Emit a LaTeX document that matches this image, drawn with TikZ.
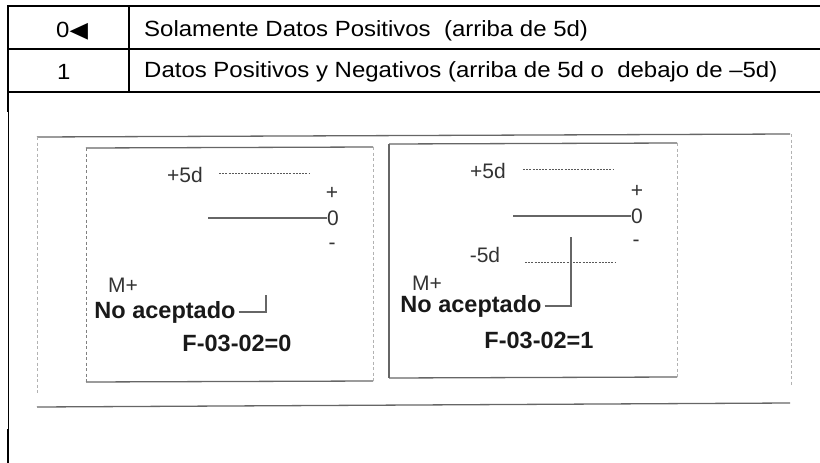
\documentclass[tikz,border=0pt]{standalone}
\usepackage{fontspec}
\setmainfont{Liberation Sans}
\newfontfamily\symfont{DejaVu Sans}
\newcommand{\widetext}[1]{\scalebox{1.09}[1]{#1}}
\begin{document}
\begin{tikzpicture}[
    x=1pt, y=-1pt,
    rule/.style={line width=1.8pt, black},
    scanline/.style={line width=1.3pt, black!60},
    faintline/.style={line width=0.9pt, black!30, dash pattern=on 3pt off 2.5pt},
    levelline/.style={line width=1pt, black!65, dash pattern=on 2pt off 1.2pt},
    cell/.style={font=\fontsize{22}{25}\selectfont, inner sep=0pt, anchor=west},
    scantext/.style={font=\fontsize{21}{24}\selectfont, text=black!80, inner sep=0pt},
    scanbold/.style={font=\bfseries\fontsize{23.5}{26}\selectfont, text=black!90, inner sep=0pt}
]
    \useasboundingbox (0,0) rectangle (820,463);

    % --- TABLE ---
    \draw[rule] (820,6) -- (8,6) -- (8,112);
    \draw[rule] (8,49) -- (820,49);
    \draw[rule] (8,92) -- (820,92);
    \draw[rule] (129,6) -- (129,92);
    \draw[line width=0.8pt] (8,112) -- (8,429);
    \draw[rule] (8,429) -- (8,463);

    \node[cell] (key0) at (56,31) {\widetext{0{\symfont ◀}}};
    \node[cell] (key1) at (57,72) {\widetext{1}};
    \node[cell] (desc0) at (144,31) {\widetext{Solamente Datos Positivos\ \ (arriba de 5d)}};
    \node[cell] (desc1) at (144,72) {\widetext{Datos Positivos y Negativos (arriba de 5d o\ \ debajo de –5d)}};

    % --- SCANNED FIGURE ---

    % Frame
    \draw[scanline] (37,137) -- (790,134);
    \draw[scanline] (37,407) -- (790,403);
    \draw[faintline] (37,137) -- (37,393);
    \draw[faintline] (791,134) -- (791,385);

    % Left box (F-03-02=0)
    \draw[scanline] (86,148) -- (373,147);
    \draw[scanline] (86,382) -- (373,381);
    \draw[faintline, black!50] (86,148) -- (86,382);
    \draw[faintline] (373,147) -- (373,381);

    \node[scantext] (plusA) at (185,175) {+5d};
    \draw[levelline] (219,173) -- (309,173);
    \node[scantext] (signpA) at (332,193) {+};
    \node[scantext] (zeroA) at (333,218) {0};
    \draw[scanline] (208,218) -- (zeroA.west);
    \node[scantext] (signmA) at (332,246) {-};
    \node[scantext] (mplusA) at (123,285) {M+};
    \node[scanbold] (naA) at (165,312) {No aceptado};
    \node[scanbold] (fA) at (237,343) {F-03-02=0};
    \coordinate (tipA) at (266,295);
    \draw[scanline, shorten <=3pt] (naA.east) -| (tipA);

    % Right box (F-03-02=1)
    \draw[scanline] (389,144) -- (677,143) ;
    \draw[scanline] (389,378) -- (677,377);
    \draw[scanline] (389,144) -- (389,378);
    \draw[faintline] (677,143) -- (677,377);

    \node[scantext] (plusB) at (488,171) {+5d};
    \draw[levelline] (523,169) -- (613,169);
    \node[scantext] (signpB) at (637,191) {+};
    \node[scantext] (zeroB) at (637,216) {0};
    \draw[scanline] (513,216) -- (zeroB.west);
    \node[scantext] (signmB) at (636,243) {-};
    \node[scantext] (minusB) at (485,255) {-5d};
    \draw[levelline] (525,262) -- (615,262);
    \node[scantext] (mplusB) at (427,283) {M+};
    \node[scanbold] (naB) at (471,306) {No aceptado};
    \node[scanbold] (fB) at (539,340) {F-03-02=1};
    \coordinate (tipB) at (571,237);
    \draw[scanline, shorten <=3pt] (naB.east) -| (tipB);

\end{tikzpicture}
\end{document}
